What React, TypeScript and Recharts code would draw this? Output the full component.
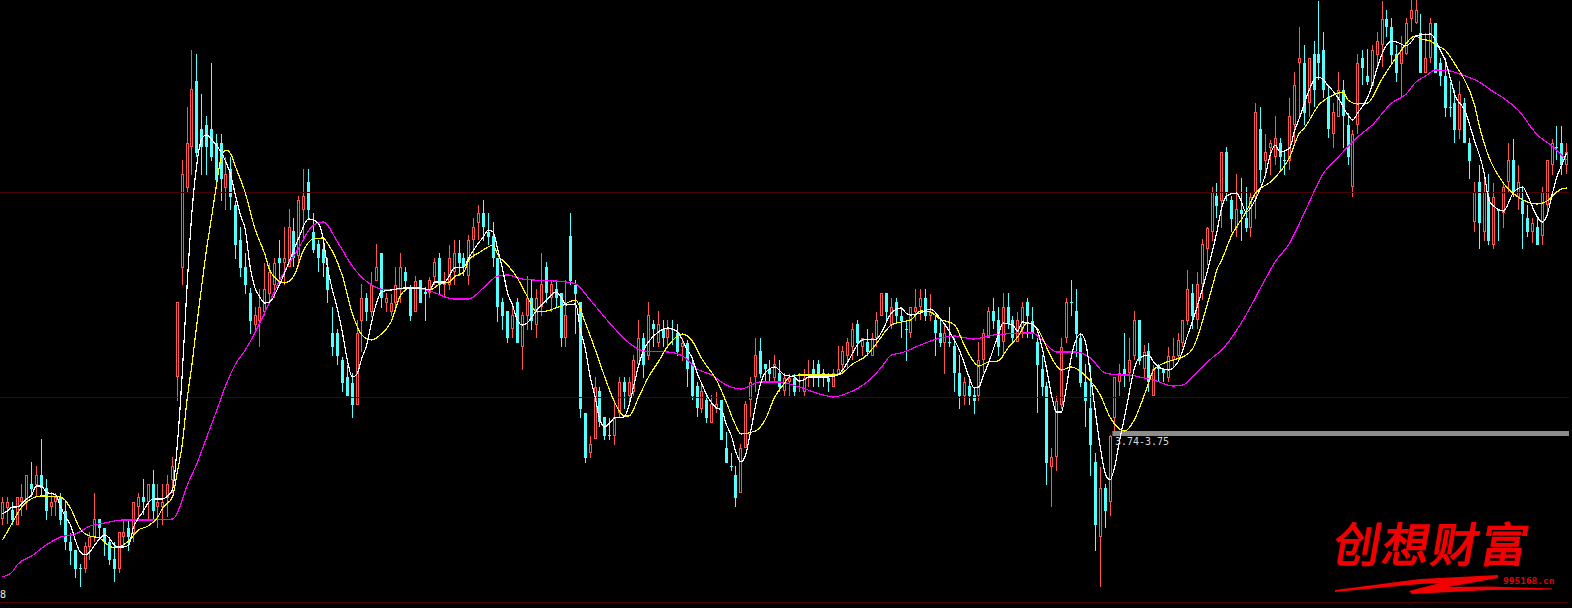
import React from "react";
import { ComposedChart, Bar, Line, XAxis, YAxis, ReferenceLine, ReferenceArea, ReferenceDot } from "recharts";

// Prices are in fen (1/100 yuan). R = rising candle, C = falling candle.
const directions =
  "RRCRRRCRCC" + "RRCCCCCRRR" + "CCCCRRCRRC" + "RCRRRRRRRR" + "CCCCCCRCCC" + "CCRRRRRCRR" + "CRRCCCCCCC" + "CCCRRCRRCR" +
  "RRRCCRCCRR" + "CRRRCCRRRC" + "CCCCCRCRRC" + "RRCRCCRCCC" + "CRRCCCRRCR" + "RRCRCRCRCC" + "RCCCRCRRCC" + "CCRRRRCCCR" +
  "CRRCRRRCCC" + "CRRRRRCRCR" + "RRCRCCCRRR" + "CRCCRCCCRC" + "CRRRCCRCCR" + "RCCCCCRRRR" + "CCCCCCRCRR" + "RCRRCRCRCC" +
  "RRRRRCRRRR" + "CRCCRCCRRC" + "RRRCCRRRCR" + "CCCCRRCCRR" + "CCRRRCCCRR" + "RRCRRCCCCC" + "RCCRCRCRCR" + "RCRCCRCRRR" + "CCR";

const highs = [
  310,310,305,310,323,332,345,341,368,328, 315,314,314,305,274,257,243,265,275,314,
  288,279,270,265,275,288,288,305,314,328, 323,337,323,323,332,350,505,647,700,757,
  753,713,691,744,673,673,650,650,606,580, 554,519,500,518,544,544,549,567,580,598,
  589,611,638,638,594,567,570,549,500,478, 450,442,434,487,523,514,535,563,554,514,
  513,540,554,540,522,531,527,520,530,549, 554,535,562,567,567,554,572,589,602,607,
  594,585,549,509,496,504,509,495,531,527, 518,554,545,527,527,514,527,594,527,505,
  394,371,430,420,390,389,407,430,430,430, 452,487,474,505,487,496,487,487,487,483,
  469,467,447,425,424,412,412,415,407,375, 354,341,363,406,430,469,469,443,447,452,
  447,434,433,433,434,438,447,447,447,438, 434,438,461,461,469,484,487,469,478,474,
  495,514,514,509,509,500,487,500,518,518, 518,513,491,487,482,500,469,452,430,430,
  420,465,478,500,509,500,514,514,491,495, 505,509,500,469,452,425,359,411,469,509,
  527,518,473,443,442,354,340,323,372,430, 443,474,469,496,487,462,464,442,443,439,
  460,469,474,487,537,523,535,568,580,620, 624,655,660,611,633,629,620,615,704,700,
  673,667,691,669,655,709,735,780,762,749, 766,806,775,722,704,735,727,694,677,753,
  757,758,762,775,806,797,789,762,771,789, 807,807,793,774,789,784,749,749,725,717,
  726,709,669,625,642,634,633,624,597,625, 664,668,642,619,602,589,589,620,647,668,
  681,681,664,
];

const bodyTops = [
  305,305,297,310,310,332,323,332,332,319, 305,310,310,296,265,257,239,261,270,288,
  288,279,265,248,275,275,279,305,310,310, 323,323,305,305,323,341,505,633,664,718,
  726,678,682,678,664,664,633,638,602,567, 540,514,492,500,518,535,544,549,549,580,
  576,607,611,625,575,563,558,540,474,474, 447,430,424,474,509,509,522,540,554,509,
  504,522,540,535,518,526,527,515,527,545, 549,526,549,554,554,549,567,580,594,594,
  575,571,549,505,496,492,505,492,509,509, 509,523,540,523,518,514,492,571,522,505,
  394,363,420,416,390,372,390,425,425,425, 447,469,469,492,483,483,478,478,478,474,
  464,464,443,421,416,407,403,403,407,359, 341,332,359,403,425,452,456,443,438,443,
  434,429,429,429,427,429,438,438,443,434, 429,434,438,456,465,478,483,469,465,469,
  487,514,514,500,505,491,478,500,500,509, 509,495,487,474,474,465,461,434,425,421,
  412,447,474,496,496,487,500,500,487,487, 500,505,486,465,438,421,350,406,460,505,
  505,496,469,425,399,345,319,319,371,430, 434,438,447,487,487,455,456,438,442,438,
  451,451,467,487,518,514,523,563,579,615, 611,655,655,607,598,597,589,610,695,678,
  655,664,669,664,647,691,722,749,744,749, 753,753,757,709,695,717,717,682,673,744,
  749,731,757,766,788,788,780,753,757,784, 797,797,774,749,784,784,744,731,700,704,
  713,704,664,615,625,615,610,610,597,620, 647,647,625,606,589,584,580,615,647,664,
  660,664,655,
];

const bodyBottoms = [
  288,299,287,282,305,304,318,322,319,296, 300,305,287,265,256,238,238,238,260,270,
  279,265,247,238,238,270,270,274,300,305, 305,296,300,300,309,327,430,539,619,660,
  654,660,660,650,627,628,619,610,562,539, 522,486,482,486,495,513,522,544,544,540,
  549,551,597,597,557,549,544,517,460,451, 424,411,402,402,486,495,495,526,509,504,
  495,504,518,526,491,495,504,513,514,530, 522,522,522,535,544,540,531,567,584,580,
  570,549,500,491,469,478,464,460,491,486, 482,500,514,509,509,469,469,526,513,398,
  349,354,368,385,371,371,371,394,415,411, 415,443,442,451,478,464,469,469,477,455,
  460,438,411,399,398,389,384,398,367,344, 340,309,314,359,407,430,433,438,433,429,
  420,416,425,415,425,415,437,429,429,433, 425,420,433,442,451,460,464,460,455,451,
  469,491,495,482,491,486,477,474,495,500, 491,491,474,464,464,464,434,411,411,411,
  406,411,447,469,486,460,465,483,469,465, 478,491,473,442,420,344,340,350,402,469,
  504,473,424,406,362,282,270,296,305,389, 425,433,434,451,446,438,425,411,438,434,
  429,447,451,464,486,491,487,523,558,575, 601,606,615,588,579,593,579,579,610,637,
  646,659,650,650,646,646,682,744,694,704, 717,744,717,678,673,690,691,650,620,682,
  739,725,721,752,762,780,752,734,743,753, 788,784,734,734,749,734,731,699,699,677,
  677,664,646,585,584,575,566,562,596,594, 625,615,610,593,575,575,562,571,602,642,
  659,642,642,
];

const lows = [
  282,283,282,282,291,297,310,310,310,287, 291,291,282,257,242,229,220,234,247,265,
  270,251,242,225,234,260,256,265,287,292, 287,287,279,282,290,314,406,522,615,632,
  650,632,632,646,619,606,597,597,548,530, 513,473,474,460,491,504,509,522,522,540,
  540,540,567,587,554,535,530,504,451,442, 415,411,389,402,455,486,490,526,499,495,
  491,495,504,518,486,495,504,486,509,522, 513,509,517,522,531,531,522,549,567,566,
  562,540,485,477,464,469,464,437,477,477, 469,491,504,495,500,460,460,522,473,389,
  344,349,368,380,367,367,362,389,398,402, 411,439,429,447,460,460,460,460,462,451,
  446,420,407,390,394,384,384,394,367,344, 336,300,314,359,390,415,429,424,425,424,
  415,411,411,411,415,411,420,420,420,420, 415,420,433,433,438,447,451,451,451,451,
  460,491,487,478,483,469,446,469,486,487, 486,486,451,460,433,460,415,398,402,402,
  393,406,434,469,478,451,451,478,465,465, 469,469,468,394,411,322,300,336,398,464,
  491,450,420,380,331,256,220,279,291,375, 411,420,425,447,442,430,415,411,425,425,
  425,439,446,460,482,478,478,507,542,566, 589,579,606,575,570,566,575,570,588,624,
  629,632,642,637,632,637,664,690,682,690, 700,727,709,669,659,690,659,642,610,673,
  722,722,721,739,740,770,744,725,709,752, 775,783,734,734,744,734,721,690,690,664,
  668,664,628,575,558,566,562,558,566,579, 615,610,597,558,570,564,562,562,594,632,
  647,632,633,
];

// Moving averages: [candle index, value in fen]
const fastAverage = [
  [0,293],[1,296],[2,300],[3,300],[5,308],[6,312],[7,321],[8,321],[9,315],[11,312],[12,300],[13,290],[14,282],[15,267],[16,255],[17,252],[18,255],[19,262],[20,268],[21,272],[22,269],[23,262],[24,260],[25,260],[26,262],[27,280],[28,289],[29,296],[30,304],[31,308],[33,308],[34,311],[35,317],[36,362],[37,432],[38,520],[39,594],[40,642],[41,668],[42,672],[43,668],[44,662],[45,655],[46,645],[47,632],[48,611],[49,592],[50,577],[51,540],[52,519],[53,510],[54,504],[55,505],[57,522],[59,545],[61,569],[63,588],[65,584],[66,569],[67,537],[68,516],[69,497],[70,474],[71,447],[72,430],[73,433],[74,449],[75,462],[76,485],[77,504],[78,515],[80,517],[83,519],[86,519],[88,517],[89,525],[91,525],[92,531],[93,539],[95,540],[96,549],[97,557],[98,564],[99,570],[100,577],[101,575],[102,557],[103,537],[104,514],[105,502],[106,487],[107,482],[108,484],[110,497],[112,507],[114,515],[115,510],[116,502],[118,503],[119,477],[120,458],[121,430],[122,410],[123,387],[124,380],[125,384],[126,389],[128,390],[129,402],[130,422],[131,442],[132,457],[133,465],[135,475],[137,479],[139,475],[140,467],[141,457],[142,449],[143,434],[144,423],[145,412],[147,399],[148,397],[149,383],[150,372],[151,355],[152,345],[153,352],[154,375],[155,400],[156,422],[157,434],[159,440],[161,432],[163,430],[164,426],[165,427],[166,430],[170,430],[172,432],[174,445],[176,462],[177,467],[180,468],[181,475],[183,494],[185,499],[186,494],[187,492],[189,494],[191,498],[193,489],[195,475],[197,457],[199,430],[200,419],[201,420],[202,432],[203,444],[205,472],[206,484],[208,482],[209,476],[210,485],[212,483],[213,477],[214,460],[215,437],[216,411],[217,395],[218,395],[219,419],[220,449],[221,467],[222,473],[223,464],[224,432],[225,395],[226,360],[227,334],[228,327],[229,341],[230,367],[231,390],[232,415],[233,438],[234,449],[236,452],[237,445],[238,440],[240,437],[242,445],[244,472],[246,501],[248,535],[249,554],[250,575],[251,599],[252,611],[254,614],[255,606],[256,595],[258,608],[260,632],[261,652],[262,662],[263,655],[265,659],[266,676],[267,689],[268,703],[269,717],[270,727],[271,730],[273,721],[275,709],[277,692],[278,687],[279,694],[281,709],[282,722],[283,739],[284,753],[286,766],[287,765],[289,761],[290,765],[291,771],[294,773],[295,767],[296,757],[297,747],[298,730],[299,712],[301,697],[303,667],[305,635],[306,607],[307,601],[309,596],[311,614],[313,620],[314,611],[316,590],[317,585],[318,592],[319,612],[320,630],[321,642],[322,654],
];

const midAverage = [
  [0,267],[1,275],[2,284],[4,300],[5,305],[8,311],[12,310],[14,299],[16,278],[18,271],[20,269],[22,261],[23,259],[24,260],[26,266],[28,277],[30,281],[32,290],[33,299],[35,310],[36,335],[37,362],[38,407],[39,442],[40,482],[41,520],[42,557],[43,588],[44,620],[45,649],[46,657],[47,653],[48,640],[50,614],[52,578],[54,553],[55,537],[56,530],[58,524],[60,531],[62,557],[64,568],[66,569],[67,563],[68,555],[70,531],[72,494],[74,472],[76,467],[78,473],[80,485],[82,512],[84,519],[86,519],[88,517],[90,523],[92,525],[93,530],[95,535],[96,547],[98,554],[100,560],[101,562],[102,552],[104,542],[106,529],[108,511],[110,495],[112,496],[115,501],[118,507],[120,484],[122,458],[124,430],[126,405],[128,391],[129,391],[131,410],[133,430],[135,445],[137,461],[140,473],[142,466],[144,448],[147,427],[149,405],[151,381],[152,373],[155,376],[157,387],[159,410],[161,424],[162,430],[164,432],[172,432],[175,443],[178,452],[180,464],[183,482],[185,485],[187,487],[189,496],[191,495],[193,488],[196,482],[198,462],[200,445],[201,441],[203,445],[205,446],[207,459],[209,470],[211,484],[213,479],[214,470],[216,449],[218,437],[220,440],[223,431],[226,412],[228,390],[231,376],[233,387],[235,411],[237,437],[238,441],[241,447],[243,450],[245,458],[247,485],[248,502],[249,519],[250,537],[251,547],[253,571],[256,595],[258,614],[261,625],[265,650],[267,674],[268,679],[271,702],[274,712],[276,715],[277,707],[279,703],[281,704],[284,728],[287,750],[291,771],[292,768],[294,766],[295,762],[297,757],[299,743],[301,727],[303,703],[304,682],[306,650],[308,631],[310,618],[312,610],[316,603],[318,606],[320,615],[321,618],[322,619],
];

const slowAverage = [
  [0,230],[1,232],[2,235],[3,242],[6,251],[9,262],[12,270],[15,273],[18,281],[21,284],[25,287],[30,287],[35,288],[36,294],[37,307],[38,321],[40,343],[42,369],[43,382],[44,395],[46,422],[48,443],[50,457],[53,484],[55,505],[57,526],[61,559],[64,582],[66,585],[69,565],[72,541],[76,522],[79,517],[85,519],[88,516],[93,508],[96,508],[99,519],[102,531],[104,532],[107,528],[116,525],[118,523],[121,507],[125,484],[129,464],[132,456],[137,455],[140,451],[143,438],[146,432],[149,422],[152,418],[156,425],[160,425],[164,420],[169,412],[171,410],[174,414],[178,425],[181,440],[183,452],[185,454],[189,462],[193,469],[196,471],[200,468],[204,472],[212,474],[214,467],[217,455],[221,455],[224,449],[227,434],[230,432],[232,432],[234,430],[237,427],[241,421],[243,422],[246,435],[249,449],[251,457],[253,469],[256,492],[259,519],[262,545],[265,564],[268,594],[272,634],[275,650],[279,670],[282,682],[286,704],[289,713],[291,725],[293,731],[295,737],[298,736],[300,733],[304,725],[307,715],[309,709],[312,697],[316,672],[319,661],[321,652],[322,647],
];

const gridLevels = [615, 410, 205];
const supportZone = { fromCandle: 229, toCandle: 322, low: 371, high: 376 };
const supportLabelCandle = 228;
const supportLabelLevel = 366;
const supportLabel = "3.74-3.75";
const cornerLabel = "8";
const brandName = ["创", "想", "财", "富"];
const brandSite = "995168.cn";

const toMap = (pairs: number[][]) => new Map(pairs.map(([i, v]) => [i, v]));
const fastMap = toMap(fastAverage);
const midMap = toMap(midAverage);
const slowMap = toMap(slowAverage);

const data = highs.map((h, i) => ({
  i,
  range: [lows[i], h],
  high: h,
  low: lows[i],
  top: bodyTops[i],
  bottom: bodyBottoms[i],
  up: directions[i] === "R",
  fast: fastMap.has(i) ? fastMap.get(i) : null,
  mid: midMap.has(i) ? midMap.get(i) : null,
  slow: slowMap.has(i) ? slowMap.get(i) : null,
}));

const RED = "#ff5454";
const CYAN = "#54ffff";

function Candle(props: any) {
  const { x, y, width, height, payload } = props;
  const cx = Math.floor(x + width / 2);
  const perUnit = height / (payload.high - payload.low);
  const bodyY = Math.round(y + (payload.high - payload.top) * perUnit);
  const bodyH = Math.max(1, Math.round((payload.top - payload.bottom) * perUnit));
  const color = payload.up ? RED : CYAN;
  return (
    <g shapeRendering="crispEdges">
      <rect x={cx} y={Math.round(y)} width={1} height={Math.max(1, Math.round(height))} fill={color} />
      {payload.up ? (
        <rect x={cx - 0.5} y={bodyY + 0.5} width={2} height={Math.max(0, bodyH - 1)} fill="#000" stroke={color} strokeWidth={1} />
      ) : (
        <rect x={cx - 1} y={bodyY} width={3} height={bodyH} fill={color} />
      )}
    </g>
  );
}

export default function App() {
  return (
    <div style={{ position: "absolute", left: 0, top: 0, width: 1572, height: 608, background: "#000", overflow: "hidden" }}>
      <ComposedChart width={1572} height={608} data={data} margin={{ top: 0, right: 3, bottom: 0, left: 0 }} barCategoryGap={0}>
        <XAxis dataKey="i" type="category" hide />
        <YAxis type="number" domain={[199, 807]} hide allowDataOverflow />
        {gridLevels.map((v) => (
          <ReferenceLine key={v} y={v} stroke="#480000" strokeWidth={1} shapeRendering="crispEdges" />
        ))}
        <Bar dataKey="range" barSize={3} shape={Candle} isAnimationActive={false} />
        <Line dataKey="slow" type="monotone" connectNulls dot={false} activeDot={false} stroke="#ff00ff" strokeWidth={1.2} shapeRendering="crispEdges" isAnimationActive={false} />
        <Line dataKey="mid" type="monotone" connectNulls dot={false} activeDot={false} stroke="#ffff00" strokeWidth={1.2} shapeRendering="crispEdges" isAnimationActive={false} />
        <Line dataKey="fast" type="monotone" connectNulls dot={false} activeDot={false} stroke="#ffffff" strokeWidth={1.2} shapeRendering="crispEdges" isAnimationActive={false} />
        <ReferenceArea x1={supportZone.fromCandle} x2={supportZone.toCandle} y1={supportZone.low} y2={supportZone.high} fill="#8c8c8c" fillOpacity={1} stroke="none" />
        <ReferenceDot
          x={supportLabelCandle}
          y={supportLabelLevel}
          r={0}
          fill="none"
          stroke="none"
          label={{ value: supportLabel, position: "right", fill: "#d8d8d8", fontSize: 10, fontFamily: "DejaVu Sans Mono" }}
        />
      </ComposedChart>
      <svg width={1572} height={608} style={{ position: "absolute", left: 0, top: 0, pointerEvents: "none" }}>
        <text x={0} y={598} fill="#e8e8e8" fontSize={10} fontFamily="DejaVu Sans Mono">{cornerLabel}</text>
        {brandName.map((ch, k) => (
          <text
            key={ch}
            transform={`translate(${1331 + k * 49} 562) skewX(-10)`}
            fill="#f00000"
            stroke="#f00000"
            strokeWidth={1.4}
            fontSize={47}
            fontWeight={400}
            fontFamily="Noto Sans CJK SC"
          >
            {ch}
          </text>
        ))}
        <path d="M1335 590 L1420 579 L1498 575 L1498 578 L1465 584 L1448 587 L1490 586.5 L1552 588.5 L1552 589.5 L1490 590 L1412 594 L1409 591 L1440 583 L1420 584 L1335 592 Z" fill="#f00000" />
        <text x={1503} y={584} fill="#e00000" fontSize={9.5} fontWeight={700} fontFamily="DejaVu Sans Mono">{brandSite}</text>
      </svg>
    </div>
  );
}
